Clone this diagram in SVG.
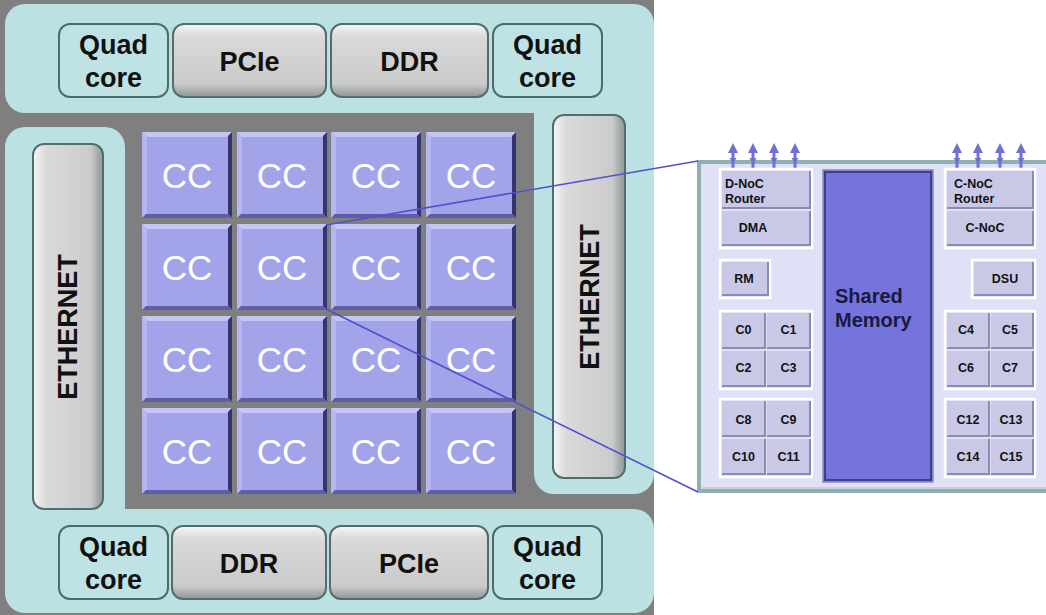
<svg xmlns="http://www.w3.org/2000/svg" width="1046" height="615" viewBox="0 0 1046 615">
<defs>
<linearGradient id="gV" x1="0" y1="0" x2="0" y2="1">
<stop offset="0" stop-color="#f6f6f6"/><stop offset="0.18" stop-color="#d9d9d9"/><stop offset="0.82" stop-color="#cacaca"/><stop offset="1" stop-color="#8f9595"/>
</linearGradient>
<linearGradient id="gH" x1="0" y1="0" x2="1" y2="0">
<stop offset="0" stop-color="#f6f6f6"/><stop offset="0.18" stop-color="#dadada"/><stop offset="0.82" stop-color="#cbcbcb"/><stop offset="1" stop-color="#8f9595"/>
</linearGradient>
<g id="ccTile">
<rect x="0" y="0" width="90" height="86" fill="#a3a3ea"/>
<polygon points="0,0 90,0 85,5 5,5" fill="#c6c6f6"/>
<polygon points="0,0 5,5 5,81 0,86" fill="#b6b6f1"/>
<polygon points="90,0 90,86 86,82 86,4" fill="#34346e"/>
<polygon points="0,86 90,86 86,82 4,82" fill="#5e5ea6"/>
</g>
<g id="cell">
<rect x="0" y="0" width="1" height="1" fill="#c9c9e7"/>
</g>
<marker id="ah" viewBox="0 0 10 10" refX="5" refY="5" markerWidth="3" markerHeight="3" orient="auto-start-reverse"><path d="M0,0 L10,5 L0,10 z" fill="#6f6fd6"/></marker>
</defs>
<style>
.cy{fill:#bce1e3}
.gbox{stroke:#566b6b;stroke-width:2}
.quad{fill:#bfe3e5;stroke:#4e6b6b;stroke-width:2}
.lbl{font-family:"Liberation Sans",Arial,sans-serif;font-weight:bold;fill:#111;text-anchor:middle}
.big{font-size:27px}
.cc{font-family:"Liberation Sans",Arial,sans-serif;font-size:35px;fill:#fff;text-anchor:middle}
.sm{font-family:"Liberation Sans",Arial,sans-serif;font-weight:bold;font-size:12.5px;fill:#111}
.grp{fill:none;stroke:#ffffff;stroke-width:2.5}
.cl{fill:#c9c9e7}
.cs{fill:none;stroke:#8a8ab2;stroke-width:2}
.conn{stroke:#5050d2;stroke-width:1.6;fill:none}
.arr{stroke:#6f6fd6;stroke-width:3}
</style>

<g id="chip">
<rect x="0" y="0" width="654" height="615" fill="#7f7f7f"/>
<rect class="cy" x="5" y="4" width="649" height="109" rx="20"/>
<rect class="cy" x="534" y="60" width="120" height="434" rx="20"/>
<rect class="cy" x="5" y="127" width="120" height="440" rx="20"/>
<rect class="cy" x="5" y="509" width="649" height="104" rx="20"/>
<rect class="cy" x="5" y="480" width="100" height="60"/>
</g>

<g id="quad-top-left"><rect class="quad" x="59" y="24" width="109" height="73" rx="11"/><text class="lbl big" x="113.5" y="54">Quad</text><text class="lbl big" x="113.5" y="87">core</text></g>
<g id="pcie-top"><rect class="gbox" fill="url(#gV)" x="173" y="24" width="153" height="73" rx="11"/><text class="lbl big" x="249.5" y="71">PCIe</text></g>
<g id="ddr-top"><rect class="gbox" fill="url(#gV)" x="331" y="24" width="157" height="73" rx="11"/><text class="lbl big" x="409.5" y="71">DDR</text></g>
<g id="quad-top-right"><rect class="quad" x="493" y="24" width="109" height="73" rx="11"/><text class="lbl big" x="547.5" y="54">Quad</text><text class="lbl big" x="547.5" y="87">core</text></g>

<g id="quad-bot-left"><rect class="quad" x="59" y="526" width="109" height="73" rx="11"/><text class="lbl big" x="113.5" y="556">Quad</text><text class="lbl big" x="113.5" y="589">core</text></g>
<g id="ddr-bot"><rect class="gbox" fill="url(#gV)" x="172" y="526" width="154" height="73" rx="11"/><text class="lbl big" x="249" y="573">DDR</text></g>
<g id="pcie-bot"><rect class="gbox" fill="url(#gV)" x="330" y="526" width="158" height="73" rx="11"/><text class="lbl big" x="409" y="573">PCIe</text></g>
<g id="quad-bot-right"><rect class="quad" x="493" y="526" width="109" height="73" rx="11"/><text class="lbl big" x="547.5" y="556">Quad</text><text class="lbl big" x="547.5" y="589">core</text></g>

<g id="ethernet-left"><rect class="gbox" fill="url(#gH)" x="33" y="144" width="70" height="365" rx="11"/><text class="lbl big" transform="translate(77,327) rotate(-90)" x="0" y="0">ETHERNET</text></g>
<g id="ethernet-right"><rect class="gbox" fill="url(#gH)" x="553" y="115" width="72" height="363" rx="11"/><text class="lbl big" transform="translate(599,297) rotate(-90)" x="0" y="0">ETHERNET</text></g>

<g id="cc-grid">
<g id="cc-1-1"><use href="#ccTile" x="142" y="132"/><text class="cc" x="187" y="188">CC</text></g>
<g id="cc-1-2"><use href="#ccTile" x="237" y="132"/><text class="cc" x="282" y="188">CC</text></g>
<g id="cc-1-3"><use href="#ccTile" x="331" y="132"/><text class="cc" x="376" y="188">CC</text></g>
<g id="cc-1-4"><use href="#ccTile" x="426" y="132"/><text class="cc" x="471" y="188">CC</text></g>
<g id="cc-2-1"><use href="#ccTile" x="142" y="224"/><text class="cc" x="187" y="280">CC</text></g>
<g id="cc-2-2"><use href="#ccTile" x="237" y="224"/><text class="cc" x="282" y="280">CC</text></g>
<g id="cc-2-3"><use href="#ccTile" x="331" y="224"/><text class="cc" x="376" y="280">CC</text></g>
<g id="cc-2-4"><use href="#ccTile" x="426" y="224"/><text class="cc" x="471" y="280">CC</text></g>
<g id="cc-3-1"><use href="#ccTile" x="142" y="316"/><text class="cc" x="187" y="372">CC</text></g>
<g id="cc-3-2"><use href="#ccTile" x="237" y="316"/><text class="cc" x="282" y="372">CC</text></g>
<g id="cc-3-3"><use href="#ccTile" x="331" y="316"/><text class="cc" x="376" y="372">CC</text></g>
<g id="cc-3-4"><use href="#ccTile" x="426" y="316"/><text class="cc" x="471" y="372">CC</text></g>
<g id="cc-4-1"><use href="#ccTile" x="142" y="408"/><text class="cc" x="187" y="464">CC</text></g>
<g id="cc-4-2"><use href="#ccTile" x="237" y="408"/><text class="cc" x="282" y="464">CC</text></g>
<g id="cc-4-3"><use href="#ccTile" x="331" y="408"/><text class="cc" x="376" y="464">CC</text></g>
<g id="cc-4-4"><use href="#ccTile" x="426" y="408"/><text class="cc" x="471" y="464">CC</text></g>
</g>

<g id="detail-panel">
<rect x="699" y="162" width="360" height="329" fill="#e0e0f7" stroke="#8fb0ae" stroke-width="4"/>
<line x1="702" y1="488" x2="1046" y2="488" stroke="#c0c8d8" stroke-width="1.5"/>
</g>

<g id="noc-arrows-d">
<line class="arr" x1="733" y1="150" x2="733" y2="170"/><polygon points="728,153 733,143 738,153" fill="#6f6fd6"/><polygon points="729.5,158 733,164 736.5,158" fill="#6f6fd6"/>
<line class="arr" x1="753" y1="150" x2="753" y2="170"/><polygon points="748,153 753,143 758,153" fill="#6f6fd6"/><polygon points="749.5,158 753,164 756.5,158" fill="#6f6fd6"/>
<line class="arr" x1="774" y1="150" x2="774" y2="170"/><polygon points="769,153 774,143 779,153" fill="#6f6fd6"/><polygon points="770.5,158 774,164 777.5,158" fill="#6f6fd6"/>
<line class="arr" x1="795" y1="150" x2="795" y2="170"/><polygon points="790,153 795,143 800,153" fill="#6f6fd6"/><polygon points="791.5,158 795,164 798.5,158" fill="#6f6fd6"/>
</g>
<g id="noc-arrows-c">
<line class="arr" x1="957" y1="150" x2="957" y2="170"/><polygon points="952,153 957,143 962,153" fill="#6f6fd6"/><polygon points="953.5,158 957,164 960.5,158" fill="#6f6fd6"/>
<line class="arr" x1="978" y1="150" x2="978" y2="170"/><polygon points="973,153 978,143 983,153" fill="#6f6fd6"/><polygon points="974.5,158 978,164 981.5,158" fill="#6f6fd6"/>
<line class="arr" x1="1000" y1="150" x2="1000" y2="170"/><polygon points="995,153 1000,143 1005,153" fill="#6f6fd6"/><polygon points="996.5,158 1000,164 1003.5,158" fill="#6f6fd6"/>
<line class="arr" x1="1021" y1="150" x2="1021" y2="170"/><polygon points="1016,153 1021,143 1026,153" fill="#6f6fd6"/><polygon points="1017.5,158 1021,164 1024.5,158" fill="#6f6fd6"/>
</g>

<g id="dnoc-group">
<rect class="grp" x="720" y="169" width="92" height="79"/>
<rect class="cl" x="722" y="171" width="88" height="38"/><path class="cs" d="M722,208 H810 V171"/>
<rect class="cl" x="722" y="211" width="88" height="35"/><path class="cs" d="M722,245 H810 V211"/>
<text class="sm" x="725" y="188">D-NoC</text><text class="sm" x="725" y="203">Router</text>
<text class="sm" x="753" y="232" text-anchor="middle">DMA</text>
</g>
<g id="cnoc-group">
<rect class="grp" x="945" y="169" width="90" height="79"/>
<rect class="cl" x="947" y="171" width="86" height="38"/><path class="cs" d="M947,208 H1033 V171"/>
<rect class="cl" x="947" y="211" width="86" height="35"/><path class="cs" d="M947,245 H1033 V211"/>
<text class="sm" x="954" y="188">C-NoC</text><text class="sm" x="954" y="203">Router</text>
<text class="sm" x="985" y="232" text-anchor="middle">C-NoC</text>
</g>
<g id="rm">
<rect class="grp" x="720" y="260" width="50" height="38"/>
<rect class="cl" x="722" y="262" width="46" height="34"/><path class="cs" d="M722,295 H768 V262"/>
<text class="sm" x="744" y="283" text-anchor="middle">RM</text>
</g>
<g id="dsu">
<rect class="grp" x="972" y="260" width="63" height="38"/>
<rect class="cl" x="974" y="262" width="59" height="34"/><path class="cs" d="M974,295 H1033 V262"/>
<text class="sm" x="1005" y="283" text-anchor="middle">DSU</text>
</g>

<g id="shared-memory">
<rect x="823" y="170" width="110" height="312" fill="#7474dc" stroke="#8a8ab8" stroke-width="1.5"/>
<rect x="825" y="172" width="106" height="308" fill="none" stroke="#3e3e8e" stroke-width="2"/>
<text font-family="Liberation Sans, Arial, sans-serif" font-weight="bold" font-size="20" fill="#1a1a40" x="835" y="303">Shared</text>
<text font-family="Liberation Sans, Arial, sans-serif" font-weight="bold" font-size="20" fill="#1a1a40" x="835" y="327">Memory</text>
</g>

<g id="cores-0-3">
<rect class="grp" x="720" y="311" width="92" height="78"/>
<rect class="cl" x="722" y="313" width="43" height="36"/><path class="cs" d="M722,348 H765 V313"/>
<rect class="cl" x="767" y="313" width="43" height="36"/><path class="cs" d="M767,348 H810 V313"/>
<rect class="cl" x="722" y="351" width="43" height="36"/><path class="cs" d="M722,386 H765 V351"/>
<rect class="cl" x="767" y="351" width="43" height="36"/><path class="cs" d="M767,386 H810 V351"/>
<text class="sm" x="743.5" y="334" text-anchor="middle">C0</text><text class="sm" x="788.5" y="334" text-anchor="middle">C1</text>
<text class="sm" x="743.5" y="372" text-anchor="middle">C2</text><text class="sm" x="788.5" y="372" text-anchor="middle">C3</text>
</g>
<g id="cores-8-11">
<rect class="grp" x="720" y="399" width="92" height="78"/>
<rect class="cl" x="722" y="401" width="43" height="36"/><path class="cs" d="M722,436 H765 V401"/>
<rect class="cl" x="767" y="401" width="43" height="36"/><path class="cs" d="M767,436 H810 V401"/>
<rect class="cl" x="722" y="439" width="43" height="36"/><path class="cs" d="M722,474 H765 V439"/>
<rect class="cl" x="767" y="439" width="43" height="36"/><path class="cs" d="M767,474 H810 V439"/>
<text class="sm" x="743.5" y="424" text-anchor="middle">C8</text><text class="sm" x="788.5" y="424" text-anchor="middle">C9</text>
<text class="sm" x="743.5" y="461" text-anchor="middle">C10</text><text class="sm" x="788.5" y="461" text-anchor="middle">C11</text>
</g>
<g id="cores-4-7">
<rect class="grp" x="945" y="311" width="90" height="78"/>
<rect class="cl" x="947" y="313" width="42" height="36"/><path class="cs" d="M947,348 H989 V313"/>
<rect class="cl" x="991" y="313" width="42" height="36"/><path class="cs" d="M991,348 H1033 V313"/>
<rect class="cl" x="947" y="351" width="42" height="36"/><path class="cs" d="M947,386 H989 V351"/>
<rect class="cl" x="991" y="351" width="42" height="36"/><path class="cs" d="M991,386 H1033 V351"/>
<text class="sm" x="966" y="334" text-anchor="middle">C4</text><text class="sm" x="1010" y="334" text-anchor="middle">C5</text>
<text class="sm" x="966" y="372" text-anchor="middle">C6</text><text class="sm" x="1010" y="372" text-anchor="middle">C7</text>
</g>
<g id="cores-12-15">
<rect class="grp" x="945" y="399" width="90" height="78"/>
<rect class="cl" x="947" y="401" width="42" height="36"/><path class="cs" d="M947,436 H989 V401"/>
<rect class="cl" x="991" y="401" width="42" height="36"/><path class="cs" d="M991,436 H1033 V401"/>
<rect class="cl" x="947" y="439" width="42" height="36"/><path class="cs" d="M947,474 H989 V439"/>
<rect class="cl" x="991" y="439" width="42" height="36"/><path class="cs" d="M991,474 H1033 V439"/>
<text class="sm" x="968" y="424" text-anchor="middle">C12</text><text class="sm" x="1011" y="424" text-anchor="middle">C13</text>
<text class="sm" x="968" y="461" text-anchor="middle">C14</text><text class="sm" x="1011" y="461" text-anchor="middle">C15</text>
</g>

<g id="connectors">
<line class="conn" x1="326" y1="225" x2="698" y2="161"/>
<line class="conn" x1="326" y1="309" x2="698" y2="492"/>
</g>
</svg>
